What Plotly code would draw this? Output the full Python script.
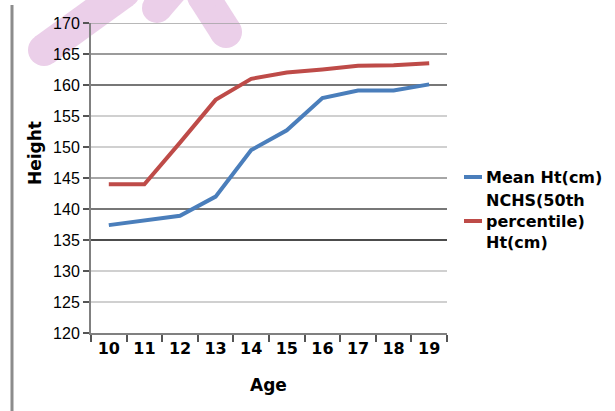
import plotly.graph_objects as go

# Age groups and mean height vs NCHS 50th percentile height (cm)
ages = ["10", "11", "12", "13", "14", "15", "16", "17", "18", "19"]
mean_ht = [137.4, 138.1, 138.9, 142.0, 149.5, 152.7, 157.9, 159.1, 159.1, 160.1]
nchs_ht = [144.0, 144.0, 150.7, 157.6, 161.0, 162.0, 162.5, 163.1, 163.2, 163.5]

series_names = ["Mean Ht(cm)", "NCHS(50th<br>percentile)<br>Ht(cm)"]
series_colors = ["#4a7ebb", "#be4b48"]

y_ticks = [120, 125, 130, 135, 140, 145, 150, 155, 160, 165, 170]
grid_colors = ["#888888", "#c0c0c0", "#c0c0c0", "#111111", "#4a4a4a",
               "#888888", "#c0c0c0", "#c0c0c0", "#4a4a4a", "#7a7a7a", "#a0a0a0"]

W, H = 615, 411
L, R, T, B = 91, 447, 23, 333


def px(x):
    return (x - L) / (R - L)


def py(y):
    return (B - y) / (B - T)


fig = go.Figure()
for vals, name, col in zip([mean_ht, nchs_ht], series_names, series_colors):
    fig.add_trace(go.Scatter(x=ages, y=vals, mode="lines", name=name,
                             line=dict(color=col, width=4), showlegend=False))

shapes = []

# faint watermark strokes behind the top-left corner (hidden by the plot area)
wm = "#ebcfe9"
for (x0, y0, x1, y1, r) in [(44, 50, 124, -8, 16), (157, 8, 176, -14, 15), (203, -4, 226, 32, 16)]:
    shapes.append(dict(type="line", xref="paper", yref="paper",
                       x0=px(x0), y0=py(y0), x1=px(x1), y1=py(y1),
                       line=dict(color=wm, width=2 * r), layer="below"))
    for cx, cy in [(x0, y0), (x1, y1)]:
        shapes.append(dict(type="circle", xref="paper", yref="paper",
                           x0=px(cx - r), x1=px(cx + r), y0=py(cy + r), y1=py(cy - r),
                           fillcolor=wm, line=dict(width=0), layer="below"))

# horizontal gridlines
for v, c in zip(y_ticks[1:], grid_colors[1:]):
    shapes.append(dict(type="line", xref="paper", yref="y", x0=0, x1=1, y0=v, y1=v,
                       line=dict(color=c, width=1.3), layer="below"))

# vertical rule at far left
shapes.append(dict(type="line", xref="paper", yref="paper",
                   x0=px(12), x1=px(12), y0=py(5), y1=py(411),
                   line=dict(color="#8c8c8c", width=3)))

# legend keys
for yy, col in [(177, series_colors[0]), (221, series_colors[1])]:
    shapes.append(dict(type="line", xref="paper", yref="paper",
                       x0=px(464), x1=px(482), y0=py(yy), y1=py(yy),
                       line=dict(color=col, width=4)))

BOLD_FAMILY = "DejaVu Sans, Liberation Sans, Arial, sans-serif"
bold = dict(family=BOLD_FAMILY, size=16, color="black", weight="bold")

annotations = [
    dict(text=series_names[0], xref="paper", yref="paper", x=px(484), y=py(177),
         xanchor="left", yanchor="middle", showarrow=False, align="left", font=bold),
    dict(text=series_names[1], xref="paper", yref="paper", x=px(484), y=py(221),
         xanchor="left", yanchor="middle", showarrow=False, align="left", font=bold),
    dict(text="Height", xref="paper", yref="paper", x=px(35), y=py(153),
         xanchor="center", yanchor="middle", showarrow=False, textangle=-90,
         font=dict(family=BOLD_FAMILY, size=17, color="black", weight="bold")),
    dict(text="Age", xref="paper", yref="paper", x=px(268), y=py(385),
         xanchor="center", yanchor="middle", showarrow=False,
         font=dict(family=BOLD_FAMILY, size=17, color="black", weight="bold")),
]

fig.update_layout(
    width=W, height=H,
    margin=dict(l=L, r=W - R, t=T, b=H - B),
    paper_bgcolor="white", plot_bgcolor="white",
    shapes=shapes, annotations=annotations,
    xaxis=dict(type="category", categoryorder="array", categoryarray=ages,
               range=[-0.5, 9.5], showgrid=False, tickson="boundaries",
               ticks="outside", ticklen=7, tickcolor="#555555", tickwidth=1.5,
               showline=True, linecolor="#808080", linewidth=2,
               tickfont=dict(family=BOLD_FAMILY, size=16, color="black", weight="bold"),
               zeroline=False),
    yaxis=dict(range=[120, 170], tickvals=y_ticks, showgrid=False,
               ticks="outside", ticklen=6, tickcolor="#555555", tickwidth=1.5,
               showline=True, linecolor="#808080", linewidth=2,
               tickfont=dict(family="Liberation Sans, Arial", size=16, color="black"),
               zeroline=False),
)

fig.write_html("out.html")
